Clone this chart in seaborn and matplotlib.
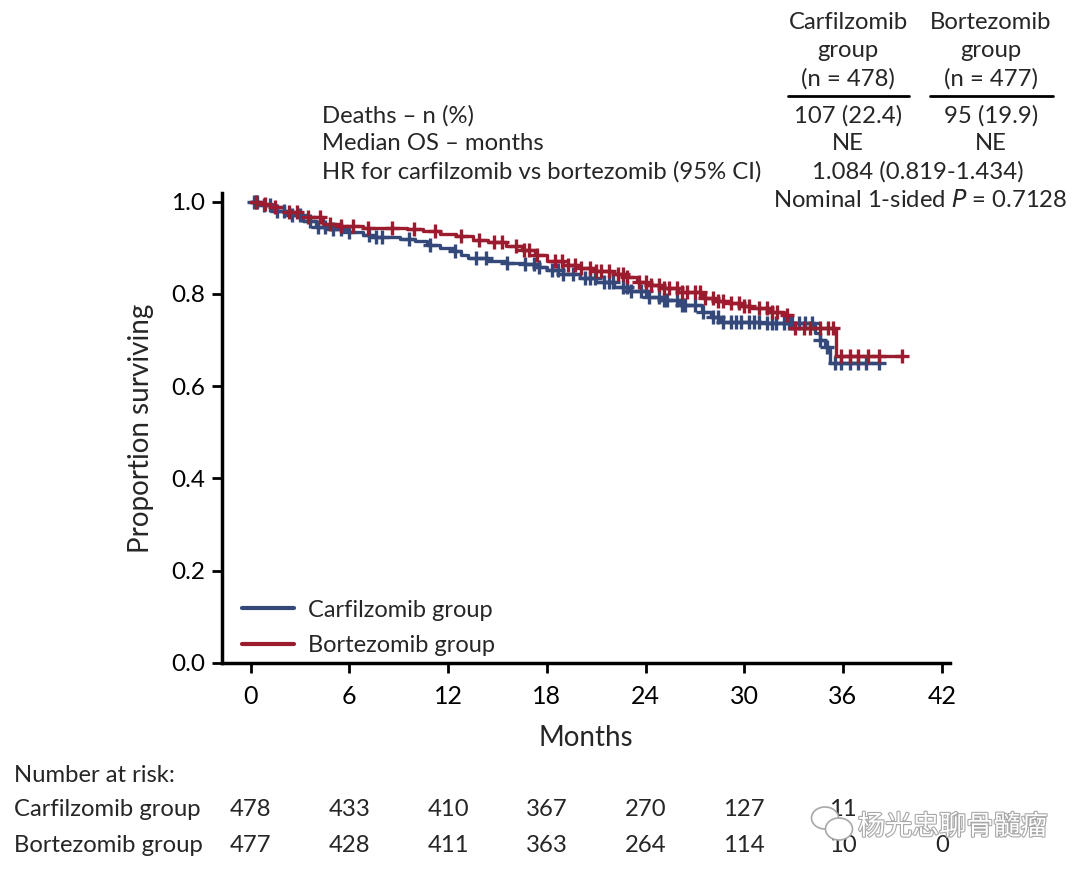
import numpy as np
import pandas as pd
import matplotlib
matplotlib.use("Agg")
import matplotlib.pyplot as plt
import matplotlib.patheffects as pe
from matplotlib.patches import Ellipse
import seaborn as sns

# Kaplan-Meier steps (months, proportion surviving)
carf_times = [0, 0.5, 1.3, 2.2, 3.2, 4.0, 5.0, 6.0, 6.8, 7.4, 9.1, 10.0, 10.7, 11.5, 12.3,
              12.8, 13.2, 14.4, 15.5, 16.6, 17.3, 18.0, 19.0, 20.0, 21.0, 22.1, 23.0, 24.1,
              25.0, 26.1, 27.4, 28.0, 28.6, 31.0, 34.3, 34.6, 34.9, 35.2, 38.2]
carf_surv = [1.0, 0.993, 0.981, 0.972, 0.958, 0.945, 0.940, 0.934, 0.927, 0.923, 0.920, 0.914,
             0.907, 0.900, 0.894, 0.884, 0.877, 0.871, 0.868, 0.866, 0.858, 0.851, 0.843, 0.834,
             0.825, 0.815, 0.806, 0.794, 0.786, 0.776, 0.761, 0.750, 0.740, 0.737, 0.716, 0.700,
             0.686, 0.651, 0.651]
bort_times = [0, 0.5, 1.3, 2.0, 3.0, 4.4, 5.5, 6.8, 8.0, 9.5, 10.5, 11.5, 12.5, 13.5, 14.4,
              15.5, 16.5, 17.3, 18.0, 19.0, 20.0, 21.0, 22.0, 22.8, 23.5, 24.1, 25.0, 26.0,
              27.4, 28.2, 29.0, 29.8, 30.4, 31.5, 32.4, 32.8, 35.6, 39.6]
bort_surv = [1.0, 0.995, 0.988, 0.978, 0.968, 0.952, 0.948, 0.944, 0.942, 0.940, 0.936, 0.931,
             0.925, 0.918, 0.912, 0.905, 0.896, 0.885, 0.871, 0.862, 0.856, 0.850, 0.843, 0.836,
             0.826, 0.819, 0.813, 0.805, 0.791, 0.785, 0.780, 0.774, 0.769, 0.762, 0.754, 0.726,
             0.666, 0.666]

# censor marks (months)
carf_censor = [0.2, 0.4, 0.8, 1.2, 1.6, 2.0, 2.5, 3.0, 3.6, 4.1, 4.5, 5.0, 5.5, 6.0, 7.2, 7.6,
               8.0, 9.6, 10.9, 12.4, 13.7, 14.3, 15.6, 16.7, 17.2, 17.5, 18.3, 18.7, 19.0, 19.6,
               20.3, 20.6, 20.9, 21.5, 21.8, 22.0, 22.6, 22.9, 23.1, 23.7, 24.0, 24.2, 24.8,
               25.1, 25.3, 25.9, 26.2, 26.4, 27.0, 27.5, 28.1, 28.4, 28.7, 29.2, 29.5, 29.8,
               30.3, 30.6, 30.9, 31.4, 31.7, 31.9, 32.4, 32.7, 32.9, 33.3, 33.7, 34.1, 34.6,
               35.0, 35.5, 35.9, 36.4, 36.9, 37.4, 38.2]
bort_censor = [0.3, 0.9, 1.5, 2.3, 2.8, 3.5, 4.2, 4.8, 5.5, 6.2, 7.1, 8.6, 9.9, 11.2, 12.8,
               13.9, 14.8, 15.3, 16.1, 16.6, 16.9, 17.4, 18.5, 18.9, 19.3, 19.7, 20.1, 20.6,
               21.0, 21.3, 21.8, 22.3, 22.6, 22.9, 23.6, 24.0, 24.3, 24.8, 25.1, 25.4, 25.9,
               26.2, 26.5, 27.0, 27.3, 27.6, 28.1, 28.4, 28.7, 29.2, 29.7, 30.0, 30.3, 30.9,
               31.4, 31.7, 32.0, 32.6, 33.1, 33.6, 34.0, 34.6, 35.1, 35.4, 35.9, 36.4, 36.9,
               37.5, 38.2, 39.6]

groups = ["Carfilzomib group", "Bortezomib group"]
colors = {"Carfilzomib group": "#34497a", "Bortezomib group": "#9b1c2e"}

risk_months = [0, 6, 12, 18, 24, 30, 36, 42]
carf_risk = ["478", "433", "410", "367", "270", "127", "11", ""]
bort_risk = ["477", "428", "411", "363", "264", "114", "10", "0"]

header_cols = ["Carfilzomib\ngroup\n(n = 478)", "Bortezomib\ngroup\n(n = 477)"]
row_labels = ["Deaths – n (%)", "Median OS – months", "HR for carfilzomib vs bortezomib (95% CI)"]
deaths = ["107 (22.4)", "95 (19.9)"]
median_os = ["NE", "NE"]
hr_text = "1.084 (0.819-1.434)"
watermark = "杨光忠聊骨髓瘤"

sns.set_theme(style="ticks")
plt.rcParams["font.family"] = ["Lato", "DejaVu Sans"]

curves = pd.concat([
    pd.DataFrame({"t": carf_times, "s": carf_surv, "group": groups[0]}),
    pd.DataFrame({"t": bort_times, "s": bort_surv, "group": groups[1]}),
])

fig = plt.figure(figsize=(10.8, 8.76), dpi=100)
ax = fig.add_axes([0.2053, 0.2432, 0.6743, 0.5365])

sns.lineplot(data=curves, x="t", y="s", hue="group", hue_order=groups, palette=colors,
             estimator=None, drawstyle="steps-post", linewidth=2.4, ax=ax, legend=False)


def step_value(times, surv, c):
    i = np.searchsorted(times, c, side="right") - 1
    return surv[max(i, 0)]


for g, times, surv, cens in [(groups[0], carf_times, carf_surv, carf_censor),
                             (groups[1], bort_times, bort_surv, bort_censor)]:
    ys = [step_value(times, surv, c) for c in cens]
    ax.plot(cens, ys, linestyle="none", marker="+", markersize=10, markeredgewidth=2.4,
            color=colors[g])

handles = [plt.Line2D([], [], color=colors[g], lw=3) for g in groups]
ax.legend(handles, groups, loc="lower left", bbox_to_anchor=(0.005, -0.021), frameon=False,
          fontsize=17, handlelength=2.2, handletextpad=0.6, labelspacing=0.62,
          borderaxespad=0.3)

ax.set_xlim(-1.76, 42.5)
ax.set_ylim(0, 1.019)
ax.set_xticks(risk_months)
ax.set_yticks([0, 0.2, 0.4, 0.6, 0.8, 1.0])
ax.set_yticklabels(["0.0", "0.2", "0.4", "0.6", "0.8", "1.0"])
for lab in ax.get_xticklabels():
    lab.set_fontsize(18)
for lab in ax.get_yticklabels():
    lab.set_fontsize(17.5)
ax.tick_params(axis="both", direction="out", width=2, colors="black")
ax.tick_params(axis="y", length=7, pad=5)
ax.tick_params(axis="x", length=7, pad=9)
for side in ["left", "bottom"]:
    ax.spines[side].set_linewidth(2.5)
    ax.spines[side].set_color("black")
sns.despine(ax=ax)
ax.set_xlabel("Months", fontsize=20, labelpad=12)
ax.set_ylabel("Proportion surviving", fontsize=20, labelpad=12)

# header table
fs = 17.2
fig.text(848 / 1080, 1 - 51 / 876, header_cols[0], ha="center", va="center", fontsize=fs,
         linespacing=1.4)
fig.text(991 / 1080, 1 - 51 / 876, header_cols[1], ha="center", va="center", fontsize=fs,
         linespacing=1.4)
fig.add_artist(plt.Line2D([788 / 1080, 909 / 1080], [1 - 96 / 876] * 2, color="black", lw=2))
fig.add_artist(plt.Line2D([930 / 1080, 1053 / 1080], [1 - 96 / 876] * 2, color="black", lw=2))
row_y = [116, 144, 172]
for lab, y in zip(row_labels, row_y):
    fig.text(322 / 1080, 1 - y / 876, lab, ha="left", va="center", fontsize=fs)
for val, x in zip(deaths, [848, 991]):
    fig.text(x / 1080, 1 - 116 / 876, val, ha="center", va="center", fontsize=fs)
for val, x in zip(median_os, [848, 991]):
    fig.text(x / 1080, 1 - 144 / 876, val, ha="center", va="center", fontsize=fs)
fig.text(918 / 1080, 1 - 172 / 876, hr_text, ha="center", va="center", fontsize=fs)
fig.text(1067 / 1080, 1 - 200 / 876, r"Nominal 1-sided $\mathit{P}$ = 0.7128", ha="right",
         va="center", fontsize=fs)

# number at risk table
fig.text(14 / 1080, 1 - 775 / 876, "Number at risk:", ha="left", va="center", fontsize=fs)
for name, vals, y in [(groups[0], carf_risk, 810), (groups[1], bort_risk, 846)]:
    fig.text(14 / 1080, 1 - y / 876, name, ha="left", va="center", fontsize=fs)
    for m, v in zip(risk_months, vals):
        xf = fig.transFigure.inverted().transform(ax.transData.transform((m, 0)))[0]
        fig.text(xf, 1 - y / 876, v, ha="center", va="center", fontsize=fs)

# watermark (white glyphs with grey outline, drawn over the table)
wm_grey = "#a8a8a8"
for cx, cy, w, h in [(825, 818, 27, 22), (839, 829, 27, 22)]:
    fig.add_artist(Ellipse((cx / 1080, 1 - cy / 876), w / 1080, h / 876, facecolor="white",
                           edgecolor=wm_grey, lw=1.2, zorder=5))
fig.text(858 / 1080, 1 - 827 / 876, watermark, ha="left", va="center", fontsize=19.5,
         color="white", zorder=6, family=["Noto Sans CJK SC", "DejaVu Sans"],
         path_effects=[pe.withStroke(linewidth=1.6, foreground=wm_grey)])

fig.savefig("out.png", dpi=100, facecolor="white")
